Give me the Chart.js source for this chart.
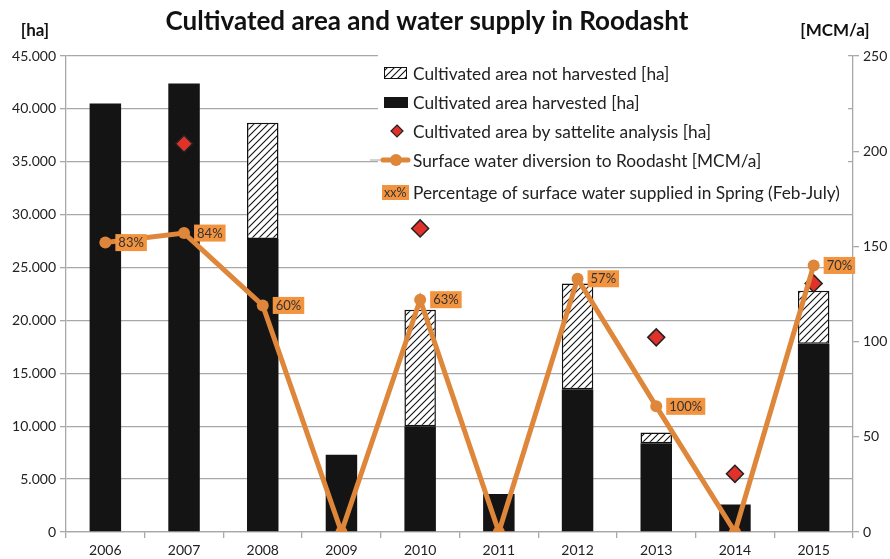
<!DOCTYPE html>
<html>
<head>
<meta charset="utf-8">
<script src="https://cdn.jsdelivr.net/npm/chart.js@4"></script>
<style>
  body { margin: 0; background: #fff; }
  #wrap { width: 890px; height: 559px; position: relative; }
</style>
</head>
<body>
<div id="wrap"><canvas id="myChart"></canvas></div>
<script>
const years = ['2006', '2007', '2008', '2009', '2010', '2011', '2012', '2013', '2014', '2015'];
const harvested = [40500, 42400, 27700, 7300, 10000, 3600, 13500, 8400, 2600, 17800];
const notHarvested = [null, null, 11000, null, 11000, null, 10000, 1000, null, 5000];
const satellite = [null, 36700, null, null, 28700, null, null, 18400, 5500, 23500];
const waterDiversion = [152, 157, 119, 0, 122, 0, 133, 66, 0, 140];
const springShare = ['83%', '84%', '60%', null, '63%', null, '57%', '100%', null, '70%'];

const FONT = 'Lato, "Open Sans", sans-serif';
const ORANGE = '#de863a';
const LABEL_BG = '#f1933f';
const GRID = '#a8a8a8';

// hatch for the not harvested part
function hatch() {
  const c = document.createElement('canvas');
  c.width = 7; c.height = 7;
  const g = c.getContext('2d');
  g.fillStyle = '#fff';
  g.fillRect(0, 0, 7, 7);
  g.strokeStyle = '#111';
  g.lineWidth = 1.1;
  g.beginPath();
  g.moveTo(-1, 8); g.lineTo(8, -1);
  g.moveTo(-1, 1); g.lineTo(1, -1);
  g.moveTo(6, 8); g.lineTo(8, 6);
  g.stroke();
  return g.createPattern(c, 'repeat');
}
const hatchFill = hatch();

const ctx = document.getElementById('myChart');

// title and unit captions
const captions = {
  id: 'captions',
  afterDraw(chart) {
    const c = chart.ctx;
    c.save();
    c.fillStyle = '#111';
    c.textBaseline = 'middle';
    c.textAlign = 'center';
    c.font = 'bold 26px ' + FONT;
    c.fillText('Cultivated area and water supply in Roodasht', 427, 22);
    c.font = 'bold 17px ' + FONT;
    c.fillText('[ha]', 35, 31);
    c.fillText('[MCM/a]', 835, 31);
    c.restore();
  }
};

// orange percentage boxes next to the diversion points
const shareLabels = {
  id: 'shareLabels',
  afterDatasetsDraw(chart) {
    const meta = chart.getDatasetMeta(0);
    const c = chart.ctx;
    c.save();
    c.font = '13px ' + FONT;
    c.textBaseline = 'middle';
    c.textAlign = 'left';
    meta.data.forEach((pt, i) => {
      const txt = springShare[i];
      if (!txt) return;
      const w = c.measureText(txt).width + 6;
      const x = pt.x + 10;
      c.fillStyle = LABEL_BG;
      c.fillRect(x, pt.y - 8.5, w, 17);
      c.fillStyle = '#333';
      c.fillText(txt, x + 3, pt.y + 0.5);
    });
    c.restore();
  }
};

// legend box inside the plot
const legendBox = {
  id: 'legendBox',
  beforeDatasetsDraw(chart) {
    const c = chart.ctx;
    c.save();
    c.fillStyle = '#fff';
    c.fillRect(378, 50, 470, 156);
    const tx = 413;
    const rows = [73, 102, 131, 160, 192];
    const texts = [
      'Cultivated area not harvested [ha]',
      'Cultivated area harvested [ha]',
      'Cultivated area by sattelite analysis [ha]',
      'Surface water diversion to Roodasht [MCM/a]',
      'Percentage of surface water supplied in Spring (Feb-July)'
    ];
    // icons
    c.fillStyle = hatchFill;
    c.fillRect(384, rows[0] - 6, 23, 12);
    c.strokeStyle = '#111';
    c.lineWidth = 1;
    c.strokeRect(384.5, rows[0] - 5.5, 22, 11);
    c.fillStyle = '#141414';
    c.fillRect(384, rows[1] - 5, 24, 11);
    c.beginPath();
    c.moveTo(397, rows[2] - 6);
    c.lineTo(403, rows[2]);
    c.lineTo(397, rows[2] + 6);
    c.lineTo(391, rows[2]);
    c.closePath();
    c.fillStyle = '#e0322a';
    c.fill();
    c.strokeStyle = '#222';
    c.lineWidth = 1.2;
    c.stroke();
    c.strokeStyle = GRID;
    c.lineWidth = 1;
    c.beginPath();
    c.moveTo(370, rows[3]);
    c.lineTo(381, rows[3]);
    c.stroke();
    c.strokeStyle = ORANGE;
    c.lineWidth = 5;
    c.lineCap = 'round';
    c.beginPath();
    c.moveTo(383, rows[3]);
    c.lineTo(408, rows[3]);
    c.stroke();
    c.fillStyle = ORANGE;
    c.beginPath();
    c.arc(396, rows[3], 6, 0, Math.PI * 2);
    c.fill();
    c.fillStyle = LABEL_BG;
    c.fillRect(382, rows[4] - 7, 27, 15);
    c.font = '12.5px ' + FONT;
    c.fillStyle = '#333';
    c.textBaseline = 'middle';
    c.fillText('xx%', 384, rows[4] + 0.5);
    // texts
    c.font = '17.3px ' + FONT;
    c.fillStyle = '#222';
    texts.forEach((t, i) => c.fillText(t, tx, rows[i] + 1));
    c.restore();
  }
};

new Chart(ctx, {
  data: {
    labels: years,
    datasets: [
      {
        type: 'line',
        label: 'Surface water diversion to Roodasht [MCM/a]',
        data: waterDiversion,
        yAxisID: 'y1',
        borderColor: ORANGE,
        backgroundColor: ORANGE,
        borderWidth: 5,
        tension: 0,
        pointRadius: 6,
        pointBorderWidth: 0,
        pointBackgroundColor: ORANGE,
        order: 0
      },
      {
        type: 'line',
        label: 'Cultivated area by sattelite analysis [ha]',
        data: satellite,
        yAxisID: 'y',
        stack: 'sat',
        showLine: false,
        pointStyle: 'rectRot',
        pointRadius: 8.5,
        pointBackgroundColor: '#e0322a',
        pointBorderColor: '#222',
        pointBorderWidth: 1.5,
        order: 1
      },
      {
        type: 'bar',
        label: 'Cultivated area harvested [ha]',
        data: harvested,
        yAxisID: 'y',
        stack: 'area',
        backgroundColor: '#141414',
        borderWidth: 0,
        categoryPercentage: 1,
        barPercentage: 0.4,
        order: 2
      },
      {
        type: 'bar',
        label: 'Cultivated area not harvested [ha]',
        data: notHarvested,
        yAxisID: 'y',
        stack: 'area',
        backgroundColor: hatchFill,
        borderColor: '#111',
        borderWidth: 1.5,
        borderSkipped: false,
        categoryPercentage: 1,
        barPercentage: 0.4,
        order: 3
      }
    ]
  },
  options: {
    responsive: true,
    maintainAspectRatio: false,
    animation: false,
    layout: { padding: { top: 56, left: 0, right: 0, bottom: 0 } },
    plugins: {
      legend: { display: false },
      tooltip: { enabled: false }
    },
    scales: {
      x: {
        stacked: true,
        offset: true,
        grid: { offset: true, drawOnChartArea: false, color: GRID, lineWidth: 1.3, tickLength: 6 },
        border: { color: GRID, width: 1.3 },
        ticks: { color: '#222', font: { family: FONT, size: 14 }, padding: 4 },
        afterFit: s => { s.height = 27; }
      },
      y: {
        stacked: true,
        position: 'left',
        min: 0,
        max: 45000,
        ticks: {
          stepSize: 5000,
          color: '#222',
          font: { family: FONT, size: 14 },
          padding: 4,
          callback: v => v.toLocaleString('de-DE')
        },
        grid: { color: GRID, lineWidth: 1.3, tickLength: 6 },
        border: { color: GRID, width: 1.3 },
        afterFit: s => { s.width = 66; }
      },
      y1: {
        position: 'right',
        min: 0,
        max: 250,
        ticks: { stepSize: 50, color: '#222', font: { family: FONT, size: 14 }, padding: 4 },
        grid: { drawOnChartArea: false, color: GRID, lineWidth: 1.3, tickLength: 6 },
        border: { color: GRID, width: 1.3 },
        afterFit: s => { s.width = 37; }
      }
    }
  },
  plugins: [captions, legendBox, shareLabels]
});
</script>
</body>
</html>
